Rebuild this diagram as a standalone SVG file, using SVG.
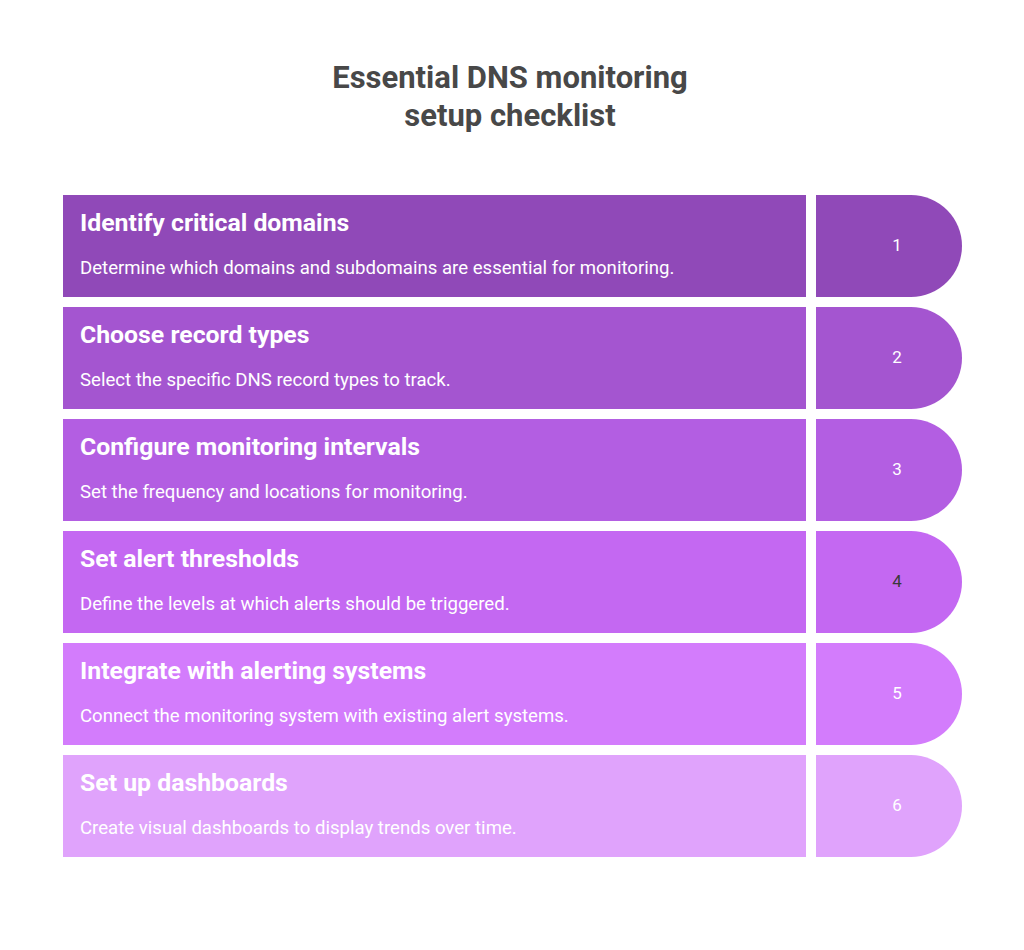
<svg xmlns="http://www.w3.org/2000/svg" width="1024" height="950" viewBox="0 0 1024 950">
<style>
.t{font-family:Roboto,"Liberation Sans",sans-serif;font-weight:700;font-size:24.8px;fill:#fff}
.d{font-family:Roboto,"Liberation Sans",sans-serif;font-size:18.6px;fill:#fff}
.n{font-family:Roboto,"Liberation Sans",sans-serif;font-size:17px;fill:#fff;text-anchor:middle}
.h{font-family:Roboto,"Liberation Sans",sans-serif;font-weight:700;font-size:31px;fill:#484848;text-anchor:middle}
</style>
<rect width="1024" height="950" fill="#fff"/>
<g id="title"><text class="h" x="510" y="88">Essential DNS monitoring</text><text class="h" x="510" y="126">setup checklist</text></g>
<g id="step1"><rect x="63" y="195" width="743" height="102" fill="#9049B8"/><path d="M816 195H911A51 51 0 0 1 911 297H816Z" fill="#9049B8"/><text class="t" x="80" y="231">Identify critical domains</text><text class="d" x="80" y="274">Determine which domains and subdomains are essential for monitoring.</text><text class="n" x="897" y="251">1</text></g>
<g id="step2"><rect x="63" y="307" width="743" height="102" fill="#A455D0"/><path d="M816 307H911A51 51 0 0 1 911 409H816Z" fill="#A455D0"/><text class="t" x="80" y="343">Choose record types</text><text class="d" x="80" y="386">Select the specific DNS record types to track.</text><text class="n" x="897" y="363">2</text></g>
<g id="step3"><rect x="63" y="419" width="743" height="102" fill="#B35EE2"/><path d="M816 419H911A51 51 0 0 1 911 521H816Z" fill="#B35EE2"/><text class="t" x="80" y="455">Configure monitoring intervals</text><text class="d" x="80" y="498">Set the frequency and locations for monitoring.</text><text class="n" x="897" y="475">3</text></g>
<g id="step4"><rect x="63" y="531" width="743" height="102" fill="#C468F2"/><path d="M816 531H911A51 51 0 0 1 911 633H816Z" fill="#C468F2"/><text class="t" x="80" y="567">Set alert thresholds</text><text class="d" x="80" y="610">Define the levels at which alerts should be triggered.</text><text class="n" x="897" y="587" style="fill:#3a3a3a">4</text></g>
<g id="step5"><rect x="63" y="643" width="743" height="102" fill="#D37CFC"/><path d="M816 643H911A51 51 0 0 1 911 745H816Z" fill="#D37CFC"/><text class="t" x="80" y="679">Integrate with alerting systems</text><text class="d" x="80" y="722">Connect the monitoring system with existing alert systems.</text><text class="n" x="897" y="699">5</text></g>
<g id="step6"><rect x="63" y="755" width="743" height="102" fill="#E0A3FC"/><path d="M816 755H911A51 51 0 0 1 911 857H816Z" fill="#E0A3FC"/><text class="t" x="80" y="791">Set up dashboards</text><text class="d" x="80" y="834">Create visual dashboards to display trends over time.</text><text class="n" x="897" y="811">6</text></g>
<g id="connectors"/>
</svg>
